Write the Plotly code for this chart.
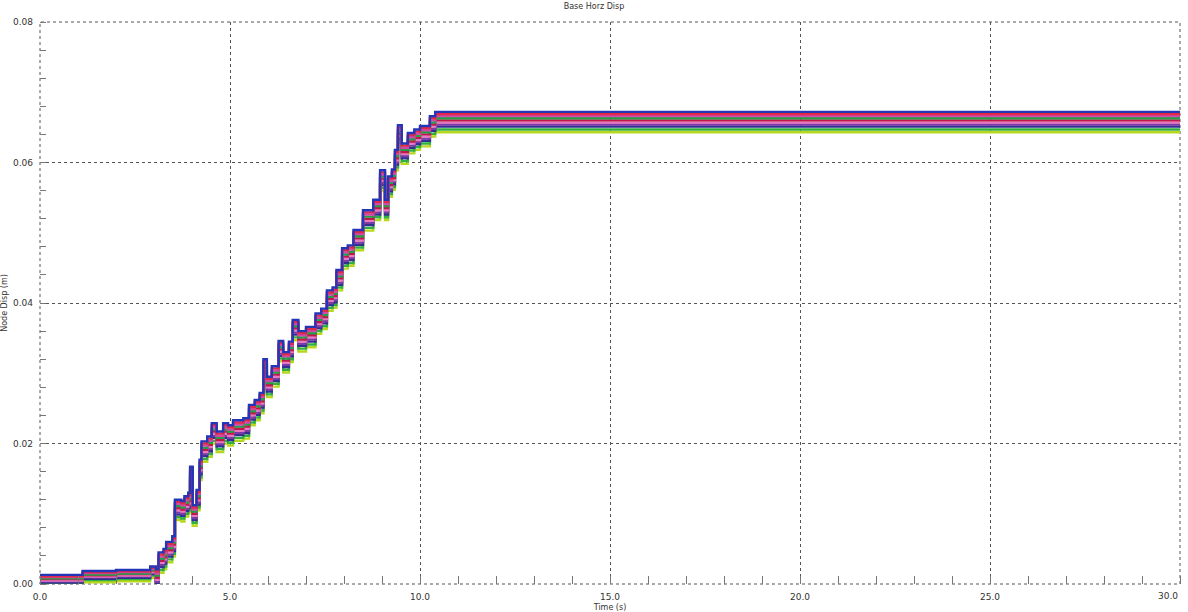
import plotly.graph_objects as go

# Time points and top-series (blue) displacement
time_s = [0.0, 1.08, 1.12, 2.0, 2.9, 3.0, 3.05, 3.12, 3.25, 3.32, 3.48, 3.55, 3.72, 3.8, 3.9, 3.95,
          4.02, 4.12, 4.2, 4.25, 4.4, 4.52, 4.65, 4.82, 4.95, 5.08, 5.35, 5.5, 5.65, 5.78, 5.88,
          5.97, 6.1, 6.28, 6.4, 6.55, 6.65, 6.8, 7.0, 7.25, 7.4, 7.55, 7.7, 7.8, 7.95, 8.1,
          8.25, 8.5, 8.77, 8.95, 9.08, 9.16, 9.26, 9.34, 9.42, 9.52, 9.68, 9.85, 10.0, 10.26,
          10.4, 15.0, 20.0, 25.0, 30.0]
top_disp = [0.0013, 0.0013, 0.00185, 0.0020, 0.0025, 0.0025, 0.0021, 0.0045, 0.0050, 0.0060, 0.0068, 0.0120,
            0.0118, 0.0125, 0.0130, 0.0167, 0.0112, 0.0134, 0.0177, 0.0203, 0.0210, 0.0229, 0.0217, 0.0229,
            0.0226, 0.0233, 0.0236, 0.0255, 0.0262, 0.0272, 0.0320, 0.0295, 0.0310, 0.0346, 0.0330,
            0.0345, 0.0376, 0.0360, 0.0366, 0.0385, 0.0392, 0.0418, 0.0422, 0.0447, 0.0478, 0.0482,
            0.0504, 0.0532, 0.0547, 0.0589, 0.0547, 0.0580, 0.0590, 0.0618, 0.0653, 0.0627, 0.0642,
            0.0647, 0.0652, 0.0666, 0.0672, 0.0672, 0.0672, 0.0672, 0.0672]

# Offsets of each node trace below the top one (early: t <= 3.0 s, late: after)
offsets_early = [0.0, -0.0002, -0.0003, -0.0005, -0.0006, -0.0008, -0.0009, -0.0011, -0.0013, -0.0016]
offsets_late = [0.0, -0.0003, -0.0006, -0.0009, -0.0012, -0.0015, -0.0018, -0.0021, -0.0025, -0.0029]
series_names = ["Node 1", "Node 2", "Node 3", "Node 4", "Node 5",
                "Node 6", "Node 7", "Node 8", "Node 9", "Node 10"]
colors = ["#2436b8", "#e02848", "#d048a8", "#22a048", "#c01848",
          "#e878c0", "#7a3aa8", "#303090", "#30b040", "#b8d820"]

x_ticks = [0, 5, 10, 15, 20, 25]
x_tick_labels = ["0.0", "5.0", "10.0", "15.0", "20.0", "25.0"]
x_end_label = "30.0"
y_ticks = [0, 0.02, 0.04, 0.06, 0.08]
y_tick_labels = ["0.00", "0.02", "0.04", "0.06", "0.08"]

fig = go.Figure()
for i in range(len(series_names) - 1, -1, -1):
    ys = [v + (offsets_early[i] if t <= 3.0 else offsets_late[i]) for t, v in zip(time_s, top_disp)]
    ys = [max(y, 0.0001) for y in ys]
    fig.add_trace(go.Scatter(x=time_s, y=ys, mode="lines", name=series_names[i],
                             line=dict(color=colors[i], width=2.4, shape="hv")))

tick_font = dict(family="DejaVu Sans", size=9, color="#333333")
fig.update_layout(
    width=1188, height=612,
    margin=dict(l=40, r=8, t=22, b=28, autoexpand=False),
    paper_bgcolor="white", plot_bgcolor="white",
    showlegend=False,
    title=dict(text="Base Horz Disp", x=0.5, xanchor="center", y=0.995, yanchor="top",
               font=dict(family="DejaVu Sans", size=8, color="#333333")),
    xaxis=dict(range=[0, 30], tickvals=x_ticks, ticktext=x_tick_labels, tickfont=tick_font,
               showgrid=True, gridcolor="#555555", griddash="dot", gridwidth=1, automargin=False,
               zeroline=False, showline=False, ticks="", ticklen=0, ticklabelstandoff=6,
               minor=dict(dtick=1, ticks="inside", ticklen=8, tickcolor="#777777", showgrid=False),
               title=dict(text="Time (s)", font=dict(family="DejaVu Sans", size=8, color="#333333"))),
    yaxis=dict(range=[0, 0.08], tickvals=y_ticks, ticktext=y_tick_labels, tickfont=tick_font,
               showgrid=True, gridcolor="#555555", griddash="dot", gridwidth=1, automargin=False,
               zeroline=False, showline=False, ticks="", ticklen=0, ticklabelstandoff=6,
               minor=dict(dtick=0.004, ticks="inside", ticklen=6, tickcolor="#777777", showgrid=False),
               title=dict(text="Node Disp (m)", font=dict(family="DejaVu Sans", size=8, color="#333333"))),
)
fig.add_annotation(x=30, y=0, xref="x", yref="paper", yanchor="top", xanchor="right", yshift=-5,
                   text=x_end_label, showarrow=False, font=tick_font)
fig.add_shape(type="rect", xref="paper", yref="paper", x0=0, y0=0, x1=1, y1=1,
              line=dict(color="#555555", width=1, dash="dot"), layer="below")
fig.write_html("out.html")
